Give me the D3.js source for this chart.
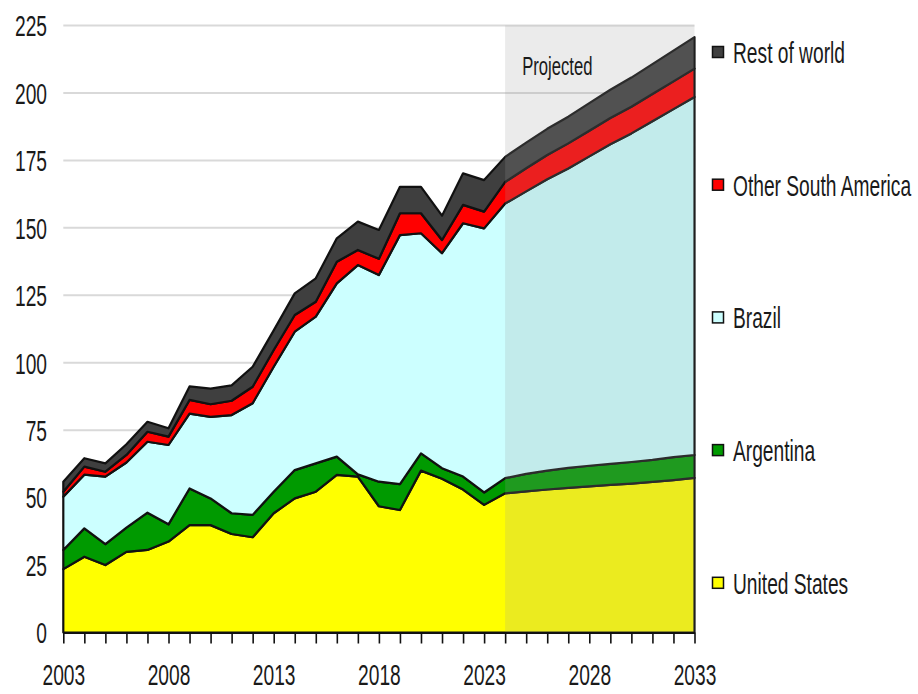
<!DOCTYPE html>
<html>
<head>
<meta charset="utf-8">
<script src="https://cdn.jsdelivr.net/npm/d3@7"></script>
<style>
  html, body { margin: 0; padding: 0; background: #fff; }
  svg { display: block; }
  text { font-family: "Liberation Sans", Arial, sans-serif; fill: #1a1a1a; }
</style>
</head>
<body>
<svg id="chart" width="918" height="694"></svg>
<script>
// Marketing years, 2003 through the 2033 projection
const years = d3.range(2003, 2034);
const firstProjectedYear = 2024;

// Series values (million metric tons), stacked bottom to top
const unitedStates = [23.5, 28.1, 25.0, 29.9, 30.6, 33.7, 39.8, 39.8, 36.5, 35.3, 44.2, 49.7, 52.2, 58.4, 57.8, 46.8,
  45.4, 60.0, 57.0, 53.0, 47.3, 51.6, 52.3, 53.0, 53.6, 54.2, 54.7, 55.2, 55.8, 56.5, 57.3];
const argentina = [7.1, 10.5, 7.8, 9.0, 13.8, 6.4, 13.6, 9.9, 7.7, 8.3, 8.0, 10.5, 10.5, 6.8, 0.8, 9.1,
  9.6, 6.4, 3.9, 4.8, 4.6, 5.6, 6.5, 7.0, 7.4, 7.6, 7.8, 8.0, 8.2, 8.5, 8.5];
const brazil = [19.7, 19.9, 25.0, 24.1, 26.3, 29.4, 27.7, 30.2, 36.4, 41.4, 46.3, 51.3, 54.4, 64.2, 77.6, 76.6,
  92.3, 81.6, 79.7, 93.9, 97.9, 101.8, 104.7, 108.0, 111.0, 114.7, 118.5, 121.8, 125.5, 129.0, 132.7];
const otherSouthAmerica = [1.9, 3.0, 1.8, 2.8, 3.7, 3.1, 5.1, 4.7, 5.3, 6.1, 6.2, 6.2, 5.5, 8.0, 5.6, 6.0,
  8.1, 7.4, 4.9, 6.8, 6.2, 8.0, 8.6, 9.0, 9.3, 9.5, 9.7, 9.9, 10.1, 10.3, 10.5];
const restOfWorld = [3.7, 3.1, 3.1, 4.0, 3.7, 3.1, 5.0, 5.8, 5.7, 7.4, 7.3, 8.0, 8.7, 8.7, 10.5, 10.7,
  9.8, 9.8, 9.0, 11.7, 11.7, 9.3, 9.5, 9.7, 9.9, 10.2, 10.5, 10.8, 11.1, 11.4, 11.7];

const seriesNames = ["United States", "Argentina", "Brazil", "Other South America", "Rest of world"];
const seriesValues = [unitedStates, argentina, brazil, otherSouthAmerica, restOfWorld];
const seriesColors = ["#ffff00", "#009a00", "#ccffff", "#ff0000", "#3f3f3f"];

const yTicks = [0, 25, 50, 75, 100, 125, 150, 175, 200, 225];
const xTickLabels = [2003, 2008, 2013, 2018, 2023, 2028, 2033];

// Rows for the stack layout
const rows = years.map((yr, i) => {
  const r = { year: yr };
  seriesNames.forEach((n, k) => { r[n] = seriesValues[k][i]; });
  return r;
});

const svg = d3.select("#chart");
const x = d3.scaleLinear().domain([2003, 2033]).range([63.3, 694.5]);
const y = d3.scaleLinear().domain([0, 225]).range([632.5, 25.5]);

// Narrow lettering: tall glyphs squeezed horizontally
const textScale = 0.64;
const fontSize = 30;

// Horizontal gridlines
svg.append("g").selectAll("line")
  .data(yTicks.filter(t => t > 0))
  .join("line")
  .attr("x1", x(2003)).attr("x2", x(2033))
  .attr("y1", d => y(d)).attr("y2", d => y(d))
  .attr("stroke", "#d9d9d9").attr("stroke-width", 2);

// Stacked areas
const stacked = d3.stack().keys(seriesNames)(rows);
const area = d3.area()
  .x(d => x(d.data.year))
  .y0(d => y(d[0]))
  .y1(d => y(d[1]));

svg.append("g").selectAll("path")
  .data(stacked)
  .join("path")
  .attr("d", d => area(d) + "Z")
  .attr("fill", (d, i) => seriesColors[i])
  .attr("stroke", "#111")
  .attr("stroke-width", 2.2)
  .attr("stroke-linejoin", "round");

// Projection period shading
svg.append("rect")
  .attr("x", x(firstProjectedYear))
  .attr("y", y(225))
  .attr("width", x(2033) - x(firstProjectedYear))
  .attr("height", y(0) - y(225))
  .attr("fill", "rgb(157,157,157)")
  .attr("fill-opacity", 0.2);

svg.append("text")
  .attr("transform", `translate(${x(firstProjectedYear) + 17},75) scale(${textScale},1)`)
  .attr("font-size", 26)
  .attr("fill", "#333")
  .text("Projected");

// X axis with yearly ticks
const xAxis = d3.axisBottom(x)
  .tickValues(years)
  .tickSize(11)
  .tickSizeOuter(0)
  .tickPadding(20)
  .tickFormat(d => xTickLabels.includes(d) ? String(d) : "");

const gx = svg.append("g")
  .attr("transform", `translate(0,${y(0)})`)
  .call(xAxis);
gx.select(".domain").attr("stroke", "#111").attr("stroke-width", 2);
gx.selectAll(".tick line").attr("stroke", "#111").attr("stroke-width", 1.6);
gx.selectAll(".tick text")
  .attr("font-size", fontSize)
  .attr("font-family", "Liberation Sans, Arial, sans-serif")
  .attr("fill", "#1a1a1a")
  .attr("transform", `scale(${textScale},1)`);

// Y tick labels
svg.append("g").selectAll("text")
  .data(yTicks)
  .join("text")
  .attr("transform", d => `translate(47,${y(d)}) scale(${textScale},1)`)
  .attr("text-anchor", "end")
  .attr("dy", "0.36em")
  .attr("font-size", fontSize)
  .text(d => d);

// Legend, top entry first
const legendOrder = seriesNames.map((n, i) => ({ name: n, color: seriesColors[i] })).reverse();
const legend = svg.append("g").selectAll("g")
  .data(legendOrder)
  .join("g")
  .attr("transform", (d, i) => `translate(712.5,${52 + i * 132.7})`);

legend.append("rect")
  .attr("x", 0).attr("y", -5.5)
  .attr("width", 11).attr("height", 11)
  .attr("fill", d => d.color)
  .attr("stroke", "#111").attr("stroke-width", 1.5);

legend.append("text")
  .attr("transform", `translate(20.5,0) scale(${textScale},1)`)
  .attr("dy", "0.36em")
  .attr("font-size", fontSize)
  .text(d => d.name);
</script>
</body>
</html>
